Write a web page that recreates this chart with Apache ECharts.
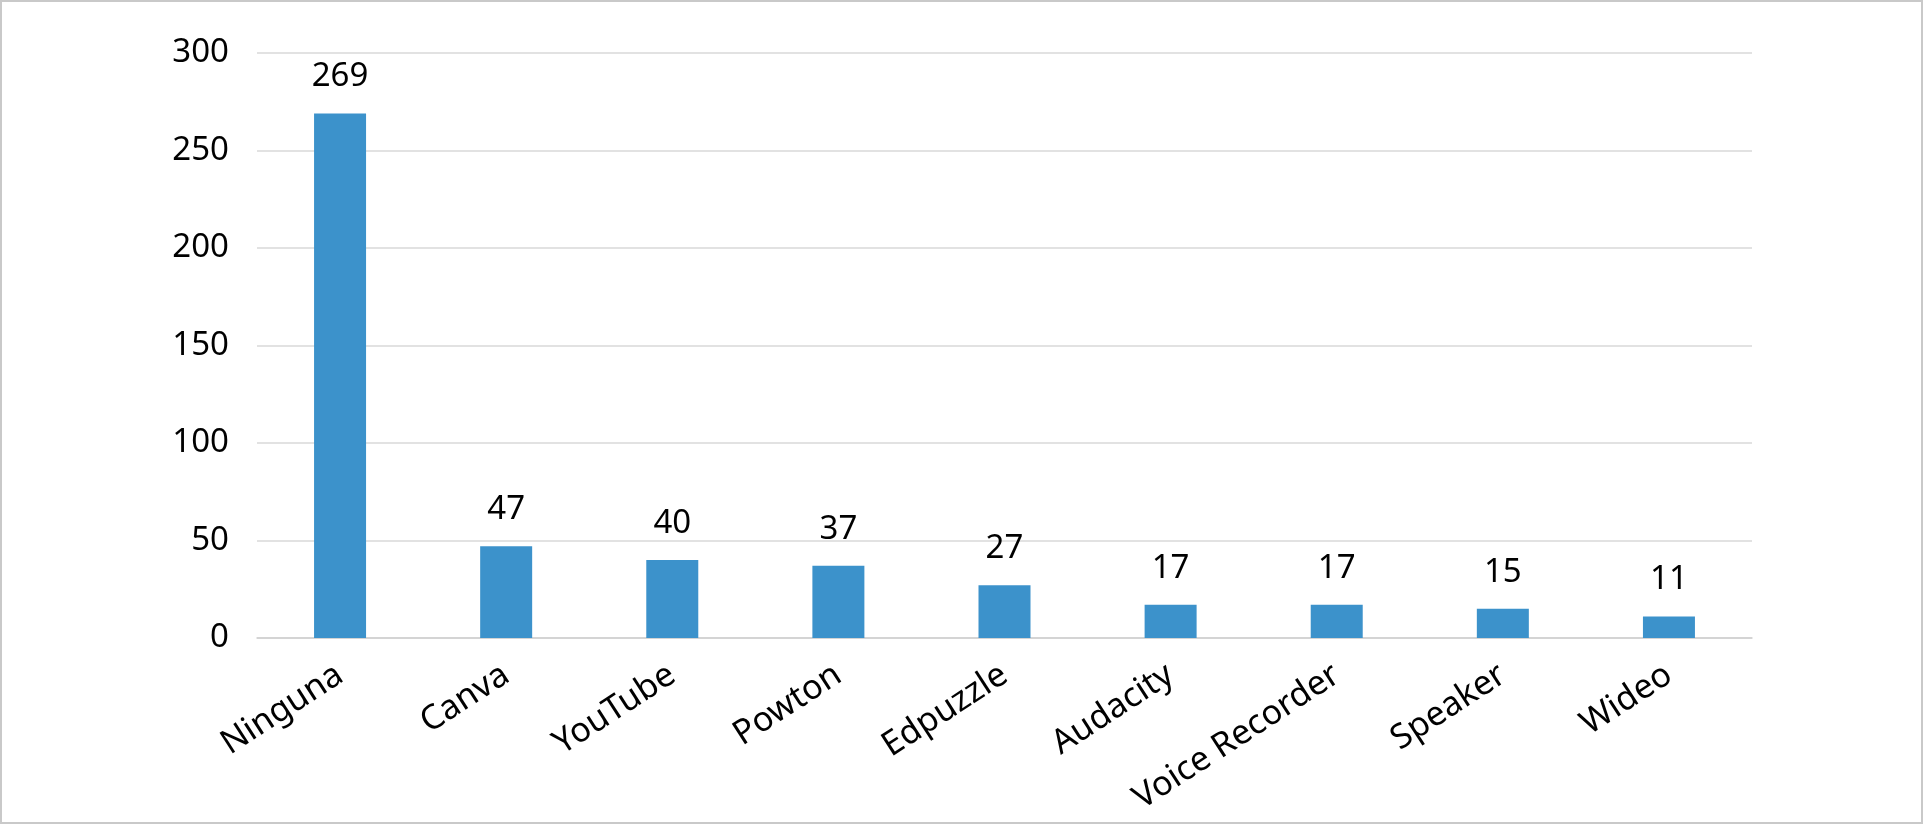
<!DOCTYPE html>
<html>
<head>
<meta charset="utf-8">
<script src="https://cdn.jsdelivr.net/npm/echarts@6/dist/echarts.min.js"></script>
<style>
    html, body { margin: 0; padding: 0; background: #fff; }
    #chart { width: 1923px; height: 824px; box-sizing: border-box; border: 2px solid #c9c9c9; }
</style>
</head>
<body>
<div id="chart"></div>
<script>
// herramientas usadas
var categories = ['Ninguna', 'Canva', 'YouTube', 'Powton', 'Edpuzzle', 'Audacity', 'Voice Recorder', 'Speaker', 'Wideo'];
var values     = [269, 47, 40, 37, 27, 17, 17, 15, 11];
var yTicks     = [0, 50, 100, 150, 200, 250, 300];

var FONT = '"Noto Sans", "Open Sans", sans-serif';

var chart = echarts.init(document.getElementById('chart'));
var option = {
    animation: false,
    grid: { left: 255, right: 169, top: 51, bottom: 184, containLabel: false },
    xAxis: {
        type: 'category',
        data: categories,
        axisLine: { lineStyle: { color: '#cfcfcf', width: 1.5 } },
        axisTick: { show: false },
        axisLabel: {
            rotate: 33,
            margin: 34,
            interval: 0,
            color: '#000',
            fontSize: 34,
            fontFamily: FONT
        }
    },
    yAxis: {
        type: 'value',
        min: yTicks[0],
        max: yTicks[yTicks.length - 1],
        interval: 50,
        axisLine: { show: false },
        axisTick: { show: false },
        splitLine: { lineStyle: { color: '#d9d9d9', width: 1.5 } },
        axisLabel: {
            margin: 28,
            color: '#000',
            fontSize: 33,
            fontFamily: FONT
        }
    },
    series: [
        {
            type: 'bar',
            data: values,
            barWidth: 52,
            itemStyle: { color: '#3c92cb' },
            label: {
                show: true,
                position: 'top',
                distance: 20,
                color: '#000',
                fontSize: 33,
                fontFamily: FONT
            }
        }
    ]
};
chart.setOption(option);
</script>
</body>
</html>
